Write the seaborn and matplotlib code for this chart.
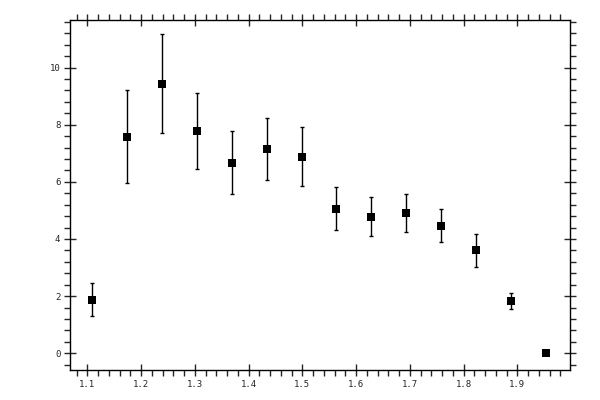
import numpy as np
import pandas as pd
import matplotlib
matplotlib.use("Agg")
import matplotlib.pyplot as plt
from matplotlib.ticker import MultipleLocator
import seaborn as sns

# Data
x_vals = [1.1087, 1.1739, 1.2395, 1.3047, 1.3698, 1.4349, 1.5003,
          1.5633, 1.6284, 1.6935, 1.7586, 1.8237, 1.8888, 1.9540]
y_vals = [1.86, 7.58, 9.44, 7.79, 6.67, 7.16, 6.88,
          5.05, 4.77, 4.91, 4.46, 3.61, 1.82, 0.0]
y_upper = [2.46, 9.20, 11.17, 9.11, 7.78, 8.25, 7.93,
           5.82, 5.47, 5.58, 5.05, 4.18, 2.11, 0.0]
y_lower = [1.30, 5.96, 7.72, 6.46, 5.58, 6.07, 5.86,
           4.32, 4.11, 4.25, 3.89, 3.02, 1.54, 0.0]

df = pd.DataFrame({"x": x_vals, "y": y_vals,
                   "hi": y_upper, "lo": y_lower})

sns.set_style("ticks")
plt.rcParams['font.family'] = ['DejaVu Sans Mono']

fig = plt.figure(figsize=(6, 4), dpi=100)
ax = fig.add_axes([70 / 600, 30 / 400, 500 / 600, 350.5 / 400])

# Error bars
ax.errorbar(df["x"], df["y"],
            yerr=[df["y"] - df["lo"], df["hi"] - df["y"]],
            fmt="none", ecolor="black", elinewidth=1.0,
            capsize=1.6, capthick=1.0, zorder=2)

# Square markers
sns.scatterplot(data=df, x="x", y="y", marker="s", s=30,
                color="black", edgecolor="black", linewidth=0,
                ax=ax, zorder=3)

ax.set_xlim(1.0678, 1.998)
ax.set_ylim(-0.586, 11.68)
ax.set_xlabel("")
ax.set_ylabel("")

ax.xaxis.set_major_locator(MultipleLocator(0.1))
ax.xaxis.set_minor_locator(MultipleLocator(0.02))
ax.yaxis.set_major_locator(MultipleLocator(2))
ax.yaxis.set_minor_locator(MultipleLocator(0.4))

ax.tick_params(which="major", direction="inout", length=8, width=1,
               top=True, right=True, labelsize=6.5, pad=3)
ax.tick_params(which="minor", direction="out", length=4, width=1,
               top=True, right=True)

for side in ["top", "bottom", "left", "right"]:
    ax.spines[side].set_visible(True)
    ax.spines[side].set_linewidth(1)
    ax.spines[side].set_color("black")

fig.savefig("out.png", dpi=100)
